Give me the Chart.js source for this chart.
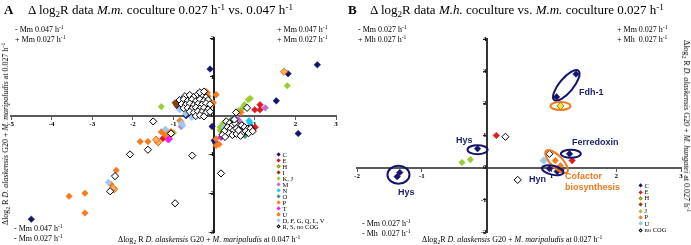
<!DOCTYPE html>
<html><head><meta charset="utf-8">
<script src="https://cdn.jsdelivr.net/npm/chart.js@4.4.1/dist/chart.umd.min.js"></script>
<style>
html,body{margin:0;padding:0;background:#fff}
body{width:691px;height:245px;position:relative;overflow:hidden;font-family:'Liberation Serif','Times New Roman',serif;color:#000}
canvas{position:absolute;top:0}
.t{position:absolute;white-space:nowrap;line-height:1}
.sp{font-size:70%;vertical-align:0.45em;line-height:0}
.sb{font-size:70%;vertical-align:-0.3em;line-height:0}
.ttl{font-size:13px}
.q{font-size:8px}
.ax{font-size:8px}
.rot{position:absolute;width:0;height:0}
.rot>div{position:absolute;white-space:nowrap;line-height:1;font-size:8px}
.lab{font-family:'Liberation Sans',Arial,sans-serif;font-weight:bold;font-size:9px}
.lg{position:absolute;font-size:6.5px;line-height:1;white-space:nowrap}
.mk{position:absolute;width:3.2px;height:3.2px;transform:rotate(45deg);box-sizing:border-box}
</style></head><body>
<canvas id="ca" width="345" height="245" style="left:0"></canvas>
<canvas id="cb" width="346" height="245" style="left:345px"></canvas>

<div class="t ttl" style="left:4px;top:3px;font-weight:bold">A</div>
<div class="t ttl" style="left:28px;top:3px">&Delta; log<span class="sb">2</span>R data <i>M.m.</i> coculture 0.027 h<span class="sp">-1</span> vs. 0.047 h<span class="sp">-1</span></div>
<div class="t ttl" style="left:348px;top:3px;font-weight:bold">B</div>
<div class="t ttl" style="left:370px;top:3px">&Delta; log<span class="sb">2</span>R data <i>M.h.</i> coculture vs. <i>M.m.</i> coculture 0.027 h<span class="sp">-1</span></div>

<div class="t q" style="left:15px;top:26px">- Mm 0.047 h<span class="sp">-1</span></div>
<div class="t q" style="left:15px;top:36px">+ Mm 0.027 h<span class="sp">-1</span></div>
<div class="t q" style="left:277px;top:26px">+ Mm 0.047 h<span class="sp">-1</span></div>
<div class="t q" style="left:277px;top:36px">+ Mm 0.027 h<span class="sp">-1</span></div>
<div class="t q" style="left:14px;top:225px">- Mm 0.047 h<span class="sp">-1</span></div>
<div class="t q" style="left:14px;top:235px">- Mm 0.027 h<span class="sp">-1</span></div>

<div class="t q" style="left:358px;top:26px">- Mm 0.027 h<span class="sp">-1</span></div>
<div class="t q" style="left:358px;top:36px">+ Mh 0.027 h<span class="sp">-1</span></div>
<div class="t q" style="left:617px;top:26px">+ Mm 0.027 h<span class="sp">-1</span></div>
<div class="t q" style="left:617px;top:36px">+ Mh&nbsp; 0.027 h<span class="sp">-1</span></div>
<div class="t q" style="left:362px;top:220px">- Mm 0.027 h<span class="sp">-1</span></div>
<div class="t q" style="left:362px;top:230px">- Mh&nbsp; 0.027 h<span class="sp">-1</span></div>

<div class="t ax" style="left:118px;top:236px">&Delta;log<span class="sb">2</span> R <i>D. alaskensis</i> G20 + <i>M. maripaludis</i> at 0.047 h<span class="sp">-1</span></div>
<div class="t ax" style="left:422px;top:236px">&Delta;log<span class="sb">2</span>R <i>D. alaskensis</i> G20 + <i>M. maripaludis</i> at 0.027 h<span class="sp">-1</span></div>
<div class="rot" style="left:6px;top:134px"><div style="transform:translate(-50%,-50%) rotate(-90deg)">&Delta;log<span class="sb">2</span> R <i>D. alaskensis</i> G20 + <i>M. maripaludis</i> at 0.027 h<span class="sp">-1</span></div></div>
<div class="rot" style="left:686px;top:126px"><div style="transform:translate(-50%,-50%) rotate(90deg)">&Delta;log<span class="sb">2</span> R <i>D. alaskensis</i> G20 + <i>M. hungatei</i> at 0.027 h<span class="sp">-1</span></div></div>

<div class="t lab" style="left:579px;top:88px;color:#1b1f72">Fdh-1</div>
<div class="t lab" style="left:572px;top:138px;color:#1b1f72">Ferredoxin</div>
<div class="t lab" style="left:565px;top:172px;color:#f07a1e">Cofactor</div>
<div class="t lab" style="left:565px;top:183px;color:#f07a1e">biosynthesis</div>
<div class="t lab" style="left:529px;top:175px;color:#1b1f72">Hyn</div>
<div class="t lab" style="left:456px;top:136px;color:#1b1f72">Hys</div>
<div class="t lab" style="left:398px;top:188px;color:#1b1f72">Hys</div>

<div id="legA"></div>
<div id="legB"></div>

<script>
// ---------------- Panel A data (x: Δlog2R at 0.047 h-1, y: Δlog2R at 0.027 h-1) ----------------
const A_CATEGORIES = ['C','E','H','I','K, J','M','N','O','P','T','U','D, F, G, Q, L, V','R, S, no COG'];
const A_C = [[-0.1,1.2],[1.82,1.08],[2.54,1.31],[1.53,0.38],[2.07,-0.46],[-4.5,-2.67],[-0.84,0.18],[-0.69,0.0],[-0.89,0.23],[-0.32,0.25],[0.0,-0.64],[0.03,-0.7],[0.89,-0.26],[-0.05,-0.28],[-0.6,0.08]];
const A_E = [[1.13,0.28],[1.0,0.15],[1.13,0.15],[0.96,-0.33],[1.01,-0.3],[-1.26,-0.59],[-1.15,-0.48]];
const A_H = [];
const A_I = [[-0.96,0.33],[-0.93,0.28]];
const A_KJ = [[-1.3,0.23],[1.8,0.77],[0.84,0.41],[0.89,0.44],[0.69,0.18],[0.75,0.28],[0.22,-0.21],[0.27,-0.16],[0.15,-0.3],[0.15,-0.38],[-1.0,-0.44],[0.6,0.12]];
const A_M = [[1.26,0.2],[-0.81,-0.28],[0.59,-0.1],[0.67,-0.2],[0.54,-0.05],[0.57,-0.15]];
const A_N = [[0.86,-0.13],[0.88,-0.18]];
const A_O = [[0.44,-0.1],[0.76,-0.51],[0.42,-0.15]];
const A_P = [[-0.17,0.59],[0.05,0.54],[-0.2,0.62],[-0.02,0.33],[-0.1,0.25],[-0.84,-0.13],[-0.81,-0.18],[-1.3,-0.42],[-1.25,-0.45],[-1.2,-0.38],[-1.18,-0.52],[-1.13,-0.45],[-1.08,-0.5],[-1.06,-0.41],[-1.82,-0.67],[-1.63,-0.67],[-2.41,-1.41],[-2.54,-1.77],[-3.57,-2.08],[-3.18,-2.0],[-3.18,-2.51],[0.66,0.08],[0.05,-0.77],[0.12,-0.74],[0.34,-0.44],[0.3,-0.44],[0.05,-0.6],[-0.15,0.5]];
const A_T = [[0.17,-0.56],[0.22,-0.46],[-1.1,-0.6],[-1.13,-0.62]];
const A_U = [[1.72,1.13],[-2.46,-1.9],[-2.49,-1.87],[-1.38,-0.69],[-1.43,-0.62]];
const A_DF = [[-2.6,-1.72],[-0.81,-0.2],[-0.77,-0.25],[-1.2,-0.35],[-0.85,0.15],[-0.7,0.05],[-0.3,0.05],[-0.55,-0.05],[0.25,-0.3]];
const A_RS = [[-1.5,-0.15],[-1.06,-0.46],[-1.63,-0.88],[-2.07,-1.0],[-2.44,-1.56],[-2.56,-1.95],[-0.96,-2.26],[-0.54,-1.03],[0.17,-1.49],[0.81,0.2],[0.54,0.08],
 [-0.72,0.5],[-0.6,0.53],[-0.5,0.48],[-0.4,0.55],[-0.3,0.52],[-0.2,0.47],[-0.35,0.6],[-0.25,0.62],
 [-0.85,0.4],[-0.75,0.42],[-0.65,0.38],[-0.55,0.41],[-0.45,0.37],[-0.35,0.42],[-0.25,0.38],[-0.15,0.4],
 [-0.8,0.3],[-0.7,0.28],[-0.6,0.31],[-0.5,0.27],[-0.4,0.3],[-0.3,0.28],[-0.2,0.32],[-0.1,0.29],
 [-0.75,0.19],[-0.65,0.2],[-0.55,0.17],[-0.45,0.21],[-0.35,0.18],[-0.25,0.2],[-0.15,0.16],
 [-0.6,0.1],[-0.5,0.08],[-0.4,0.11],[-0.3,0.09],[-0.2,0.07],[-0.1,0.1],[-0.45,-0.01],[-0.35,0.01],[-0.25,-0.02],
 [0.3,-0.15],[0.38,-0.2],[0.45,-0.25],[0.52,-0.2],[0.6,-0.28],[0.68,-0.25],[0.75,-0.3],[0.82,-0.35],[0.9,-0.33],
 [0.33,-0.3],[0.4,-0.35],[0.48,-0.38],[0.55,-0.33],[0.63,-0.4],[0.7,-0.45],[0.78,-0.4],[0.85,-0.45],
 [0.36,-0.45],[0.45,-0.5],[0.55,-0.47],[0.65,-0.52],[0.25,-0.4],[0.2,-0.5],[0.27,-0.55],[0.95,-0.4],[0.5,-0.1],[0.6,-0.38]];
const A_X_TICKS = [-5,-4,-3,-2,-1,1,2,3];
const A_Y_TICKS = [-3,-2,-1,0,1,2];

// ---------------- Panel B data (x: M.m. coculture, y: M.h. coculture) ----------------
const B_CATEGORIES = ['C','E','H','I','J','P','U','no COG'];
const B_C = [[2.82,4.15],[1.38,2.91],[1.08,2.2],[1.28,0.43],[0.97,-0.03],[1.09,-0.12],[-0.14,0.59],[-1.34,-0.15],[-1.38,-0.28]];
const B_E = [[0.15,1.0],[1.32,0.22]];
const B_H = [[1.14,1.92]];
const B_I = [[1.15,-0.06]];
const B_J = [[-0.25,0.25],[-0.38,0.16]];
const B_P = [[1.06,0.22],[1.14,0.06]];
const B_U = [[0.88,0.22]];
const B_NOCOG = [[0.29,0.96],[0.48,-0.38],[0.97,0.43]];
const B_X_TICKS = [-2,-1,1,2,3];
const B_Y_TICKS = [-2,-1,0,1,2,3,4];
// annotation groups: label, centre (data units)
const B_GROUP_NAMES = ['Hys','Hys','Fdh-1','Fdh-1','Ferredoxin','Cofactor biosynthesis','Hyn'];
const B_GROUP_CENTRES = [[-1.36,-0.22],[-0.14,0.56],[1.23,2.56],[1.14,1.92],[1.3,0.43],[1.08,0.19],[1.02,-0.08]];

// ---------------- styles ----------------
const NAVY='#14146e', RED='#e31a1c', BROWN='#8c3c14', GREEN='#9acd32', ORCHID='#c070d0', CYAN='#1ec8f0',
      SEA='#3a9a6a', ORANGE='#f57c20', MAG='#f020f0', LBLUE='#9ec8f0';
const ST = {
  'C':{f:NAVY,b:NAVY},'E':{f:RED,b:RED},'H':{f:'#f2e34c',b:'#8c8c00'},'I':{f:BROWN,b:BROWN},
  'K, J':{f:GREEN,b:GREEN},'J':{f:GREEN,b:GREEN},'M':{f:ORCHID,b:ORCHID},'N':{f:CYAN,b:CYAN},'O':{f:SEA,b:SEA},
  'P':{f:ORANGE,b:ORANGE},'T':{f:MAG,b:MAG},'U':{f:'#fbb060',b:'#ef6c10'},
  'D, F, G, Q, L, V':{f:LBLUE,b:LBLUE},'R, S, no COG':{f:'#ffffff',b:'#000000'},'no COG':{f:'#ffffff',b:'#000000'}
};
const STB = Object.assign({}, ST, {'U':{f:LBLUE,b:LBLUE}});
const ELL = [
  {c:NAVY,rx:11,ry:9,rot:0},{c:NAVY,rx:10,ry:4.5,rot:0},{c:NAVY,rx:19,ry:7,rot:-0.88},
  {c:'#f07a1e',rx:10,ry:4,rot:0},{c:NAVY,rx:10,ry:4,rot:0},{c:'#f07a1e',rx:15,ry:6,rot:0.8},{c:NAVY,rx:11,ry:4.5,rot:0.22}
];

function toPts(arr){ return arr.map(p=>({x:p[0],y:p[1]})); }
function ds(label, arr, st){
  const open = st.f==='#ffffff' || label==='H' || label==='U';
  return {label, data:toPts(arr), pointStyle:'rectRot', pointRadius: open?3.6:3.3,
    backgroundColor:st.f, borderColor:st.b, borderWidth: open?1:0.5, clip:false};
}

const ellipsePlugin = {
  id:'ellipses',
  afterDatasetsDraw(chart, args, opts){
    if(!opts || !opts.centres) return;
    const ctx=chart.ctx, xs=chart.scales.x, ys=chart.scales.y;
    ctx.save();
    opts.centres.forEach((c,i)=>{
      const e=opts.styles[i];
      ctx.beginPath();
      ctx.ellipse(xs.getPixelForValue(c[0]), ys.getPixelForValue(c[1]), e.rx, e.ry, e.rot, 0, Math.PI*2);
      ctx.lineWidth=2; ctx.strokeStyle=e.c; ctx.stroke();
    });
    ctx.restore();
  }
};

function axisOpts(min,max,pos,ticks,borderColor,hideZero){
  return {
    type:'linear', min, max, position:pos,
    border:{display:true,color:borderColor,width:2},
    grid:{display:true,drawOnChartArea:false,drawTicks:true,tickLength:3,color:borderColor,lineWidth:1},
    afterBuildTicks(ax){ ax.ticks = ticks.map(v=>({value:v})); },
    ticks:{autoSkip:false,maxRotation:0,padding:1,color:'#000',
      font:{family:'Liberation Serif',size:7,weight:'bold'},
      callback:(v)=> (hideZero && v===0) ? '' : String(v)}
  };
}

function makeChart(id, datasets, pad, xr, yr, xt, yt, xc, yc, ell){
  return new Chart(document.getElementById(id), {
    type:'scatter',
    data:{datasets},
    plugins:[ellipsePlugin],
    options:{
      responsive:false, animation:false,
      layout:{padding:pad},
      plugins:{legend:{display:false},tooltip:{enabled:false},ellipses:ell||{}},
      scales:{
        x:axisOpts(xr[0],xr[1],{y:0},xt,xc,true),
        y:axisOpts(yr[0],yr[1],{x:0},yt,yc,false)
      }
    }
  });
}

const dsA = [
  ds('R, S, no COG',A_RS,ST['R, S, no COG']),
  ds('D, F, G, Q, L, V',A_DF,ST['D, F, G, Q, L, V']),
  ds('U',A_U,ST['U']), ds('T',A_T,ST['T']), ds('P',A_P,ST['P']), ds('O',A_O,ST['O']),
  ds('N',A_N,ST['N']), ds('M',A_M,ST['M']), ds('K, J',A_KJ,ST['K, J']), ds('I',A_I,ST['I']),
  ds('H',A_H,ST['H']), ds('E',A_E,ST['E']), ds('C',A_C,ST['C'])
];
const dsB = [
  ds('no COG',B_NOCOG,STB['no COG']), ds('U',B_U,STB['U']), ds('P',B_P,STB['P']), ds('J',B_J,STB['J']),
  ds('I',B_I,STB['I']), ds('H',B_H,STB['H']), ds('E',B_E,STB['E']), ds('C',B_C,STB['C'])
];

makeChart('ca', dsA, {left:11,right:9,top:38,bottom:13}, [-5,3], [-3,2], A_X_TICKS, A_Y_TICKS, '#5a5a5a', '#222');
makeChart('cb', dsB, {left:12,right:10,top:39,bottom:13}, [-2,3], [-2,4], B_X_TICKS, B_Y_TICKS, '#5a5a5a', '#333',
  {centres:B_GROUP_CENTRES, styles:ELL});

function legend(el, cats, st, left, top, step){
  const box=document.getElementById(el);
  cats.forEach((c,i)=>{
    const s=st[c];
    const y=top+i*step;
    const open = s.f==='#ffffff' || c==='H' || c==='U';
    const m=document.createElement('div');
    m.className='mk';
    m.style.left=(left-1.6)+'px'; m.style.top=(y-1.6)+'px';
    m.style.background=s.f; m.style.border=(open?'0.8px solid ':'0 solid ')+s.b;
    box.appendChild(m);
    const t=document.createElement('div');
    t.className='lg'; t.textContent=c;
    t.style.left=(left+3.5)+'px'; t.style.top=(y-3.3)+'px';
    box.appendChild(t);
  });
}
legend('legA', A_CATEGORIES, ST, 279, 155, 6);
legend('legB', B_CATEGORIES, STB, 641, 186, 6.3);
</script>
</body></html>
